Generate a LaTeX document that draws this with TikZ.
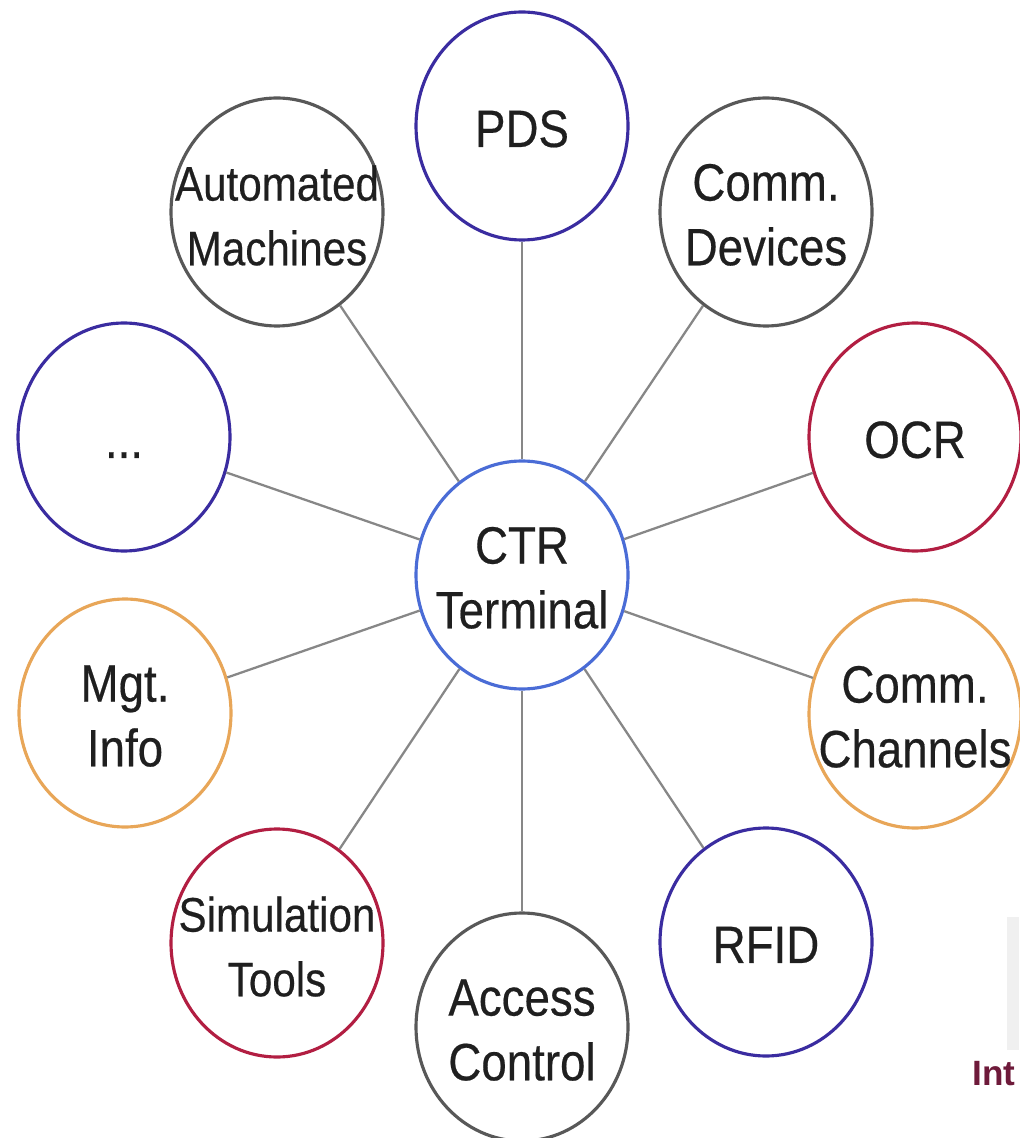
\documentclass[tikz,border=0pt]{standalone}
\usepackage{fontspec}
\setmainfont{Liberation Sans}
\newfontfamily\heavy[FakeBold=0.4]{Liberation Sans}
\usepackage{graphicx}
\usepackage{xcolor}
\usepackage{tikz}
\usetikzlibrary{positioning,calc,shapes}

\definecolor{cgray}{RGB}{88,88,88}
\definecolor{cblue}{RGB}{58,44,160}
\definecolor{cred}{RGB}{178,30,66}
\definecolor{corange}{RGB}{232,166,88}
\definecolor{cctr}{RGB}{74,108,214}
\definecolor{linkgray}{RGB}{135,135,135}
\definecolor{intred}{RGB}{110,26,58}

\newcommand{\tall}[1]{\scalebox{1}[1.15]{\begin{tabular}{@{}c@{}}#1\end{tabular}}}

\tikzset{
  unit/.style={ellipse, draw=#1, line width=0.9pt, minimum width=2.12cm, minimum height=2.28cm, inner sep=0pt},
  lbl/.style={font=\heavy\fontsize{13}{16}\selectfont, text=black!88, inner sep=0pt, yshift=-0.08cm},
  slbl/.style={font=\heavy\fontsize{12}{16}\selectfont, text=black!88, inner sep=0pt, yshift=-0.08cm},
  link/.style={draw=linkgray, line width=0.65pt}
}

\begin{document}
\begin{tikzpicture}
					\useasboundingbox (0,0) rectangle (10.19,-11.38);

					\node[unit=cctr, label={[lbl]center:\tall{CTR\\Terminal}}] (ctr) at (5.22, -5.75) {};
					\node[unit=cblue, label={[lbl]center:\tall{PDS}}] (pds) at (5.22, -1.26) {};
					\node[unit=cgray, label={[slbl]center:\tall{Automated\\Machines}}] (auto) at (2.77, -2.12) {};
					\node[unit=cgray, label={[lbl]center:\tall{Comm.\\Devices}}] (devices) at (7.66, -2.12) {};
					\node[unit=cblue, label={[lbl]center:\tall{...}}] (dots) at (1.24, -4.37) {};
					\node[unit=cred, label={[lbl]center:\tall{OCR}}] (ocr) at (9.15, -4.37) {};
					\node[unit=corange, label={[lbl]center:\tall{Mgt.\\Info}}] (mgt) at (1.25, -7.13) {};
					\node[unit=corange, label={[lbl]center:\tall{Comm.\\Channels}}] (channels) at (9.15, -7.14) {};
					\node[unit=cred, label={[slbl]center:\tall{Simulation\\Tools}}] (sim) at (2.77, -9.43) {};
					\node[unit=cblue, label={[lbl]center:\tall{RFID}}] (rfid) at (7.66, -9.42) {};
					\node[unit=cgray, label={[lbl]center:\tall{Access\\Control}}] (access) at (5.22, -10.27) {};

					\draw[link] (ctr) -- (pds);
					\draw[link] (ctr) -- (auto);
					\draw[link] (ctr) -- (devices);
					\draw[link] (ctr) -- (dots);
					\draw[link] (ctr) -- (ocr);
					\draw[link] (ctr) -- (mgt);
					\draw[link] (ctr) -- (channels);
					\draw[link] (ctr) -- (sim);
					\draw[link] (ctr) -- (rfid);
					\draw[link] (ctr) -- (access);

					% cut-off bits at the right edge
					\fill[black!6] (10.07, -9.17) rectangle (10.19, -10.50);
					\node[anchor=west, inner sep=0pt, font=\fontsize{10}{12}\bfseries\selectfont, text=intred] (intxt) at (9.72, -10.74) {Int};
				\end{tikzpicture}
\end{document}
